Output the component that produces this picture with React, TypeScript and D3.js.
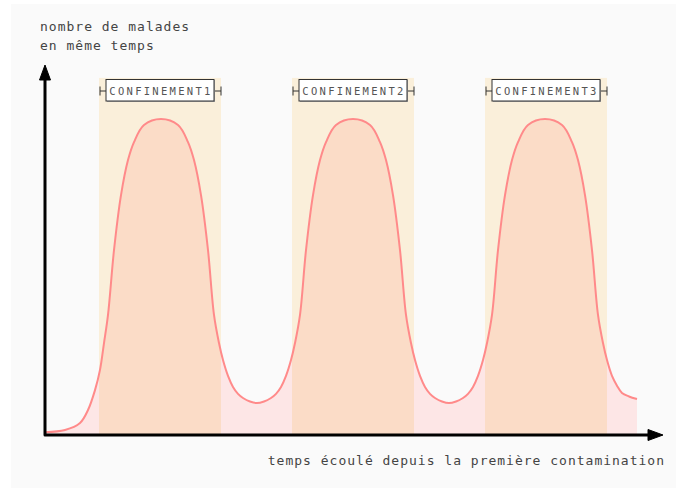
import React from "react";
import * as d3 from "d3";

const W = 676;
const H = 488;

// time (arbitrary units) and number of sick people (0-100 scale)
const curveT = [
  0, 20, 35, 43, 50, 55, 59, 63, 69, 76, 83, 89, 99, 116, 133, 143, 149, 156, 163, 169, 174, 178, 183, 188, 193, 198, 205, 212,
  219, 226, 231, 236, 241, 246, 250, 255, 261, 268, 275, 281, 291, 308, 325, 335, 341, 348, 355, 361, 366, 370, 375, 380, 385, 390, 397, 404,
  411, 418, 423, 428, 433, 438, 442, 447, 453, 460, 467, 473, 483, 500, 517, 527, 533, 540, 547, 553, 558, 562, 567, 572, 577, 584, 592,
];
const curveV = [
  0.9, 1.6, 3.8, 7.9, 14.2, 20.6, 29.1, 38.0, 58.5, 75.9, 87.0, 92.7, 98.1, 100, 98.1, 92.7, 87.0, 75.9, 58.5, 38.0, 29.1, 23.7, 18.7, 15.2, 13.0, 11.7, 10.6, 10.1,
  10.6, 11.7, 13.0, 15.2, 18.7, 23.7, 29.1, 38.0, 58.5, 75.9, 87.0, 92.7, 98.1, 100, 98.1, 92.7, 87.0, 75.9, 58.5, 38.0, 29.1, 23.7, 18.7, 15.2, 13.0, 11.7, 10.6, 10.1,
  10.6, 11.7, 13.0, 15.2, 18.7, 23.7, 29.1, 38.0, 58.5, 75.9, 87.0, 92.7, 98.1, 100, 98.1, 92.7, 87.0, 75.9, 58.5, 38.0, 29.1, 23.7, 18.7, 15.6, 13.3, 12.2, 11.4,
];

const bandLabels = ["CONFINEMENT1", "CONFINEMENT2", "CONFINEMENT3"];
const bandStart = [54, 247, 440];
const bandEnd = [176, 369, 562];
const bandTop = 113;

const yTitle = ["nombre de malades", "en même temps"];
const xTitle = "temps écoulé depuis la première contamination";

const MONO = "'DejaVu Sans Mono', 'Liberation Mono', monospace";

export default function App() {
  const x = d3.scaleLinear().domain([0, 618]).range([45, 663]);
  const y = d3.scaleLinear().domain([0, 100]).range([435, 119]);
  const pts: [number, number][] = curveT.map((t, i) => [t, curveV[i]]);

  const line = d3
    .line<[number, number]>()
    .x((d) => x(d[0]))
    .y((d) => y(d[1]))
    .curve(d3.curveCatmullRom.alpha(0.5));
  const area = d3
    .area<[number, number]>()
    .x((d) => x(d[0]))
    .y0(y(0))
    .y1((d) => y(d[1]))
    .curve(d3.curveCatmullRom.alpha(0.5));

  const x0 = x(0);
  const y0 = y(0);

  return (
    <svg width={W} height={H} style={{ position: "absolute", left: 0, top: 0 }}>
      <defs>
        <clipPath id="areaClip">
          <path d={area(pts) || ""} />
        </clipPath>
      </defs>
      <rect x={11} y={4} width={W - 11} height={H - 4} fill="#fafafa" />

      {bandStart.map((s, i) => (
        <rect
          key={"b" + i}
          x={x(s)}
          y={y(bandTop)}
          width={x(bandEnd[i]) - x(s)}
          height={y0 - y(bandTop)}
          fill="#faefda"
        />
      ))}
      <path d={area(pts) || ""} fill="#fde6e6" />
      <g clipPath="url(#areaClip)">
        {bandStart.map((s, i) => (
          <rect
            key={"p" + i}
            x={x(s)}
            y={y(bandTop)}
            width={x(bandEnd[i]) - x(s)}
            height={y0 - y(bandTop)}
            fill="#fbdcc7"
          />
        ))}
      </g>
      <path d={line(pts) || ""} fill="none" stroke="#ff8a8a" strokeWidth={2} />

      {bandStart.map((s, i) => {
        const l = x(s) + 1;
        const r = x(bandEnd[i]);
        const bx = l + 6;
        const bw = r - l - 13;
        const cy = 91;
        return (
          <g key={"l" + i}>
            <line x1={l} x2={bx} y1={cy} y2={cy} stroke="#333" strokeWidth={1} />
            <line x1={bx + bw} x2={r} y1={cy} y2={cy} stroke="#333" strokeWidth={1} />
            <line x1={l} x2={l} y1={cy - 4.5} y2={cy + 4.5} stroke="#333" strokeWidth={1} />
            <line x1={r} x2={r} y1={cy - 4.5} y2={cy + 4.5} stroke="#333" strokeWidth={1} />
            <rect x={bx + 1} y={80} width={bw} height={22} fill="#aaa" />
            <rect x={bx} y={79.5} width={bw} height={21.5} fill="#fff" stroke="#333" strokeWidth={1} />
            <text
              x={bx + bw / 2 + 1}
              y={94.5}
              textAnchor="middle"
              fontFamily={MONO}
              fontSize={10.5}
              letterSpacing={2.3}
              fill="#555"
            >
              {bandLabels[i]}
            </text>
          </g>
        );
      })}

      {/* axes */}
      <path
        d={`M${x0},${y(bandTop) - 2} L${x0},${y0} L${x(618) - 8},${y0}`}
        fill="none"
        stroke="#000"
        strokeWidth={3}
        strokeLinejoin="round"
      />
      <path d={`M${x0},65 L${x0 + 5.5},80 L${x0 - 5.5},80 Z`} fill="#000" stroke="#000" strokeWidth={1} strokeLinejoin="round" />
      <path d={`M663,${y0} L648,${y0 - 5.5} L648,${y0 + 5.5} Z`} fill="#000" stroke="#000" strokeWidth={1} strokeLinejoin="round" />

      {yTitle.map((t, i) => (
        <text key={t} x={40} y={31 + i * 19} fontFamily={MONO} fontSize={13} letterSpacing={1} fill="#444">
          {t}
        </text>
      ))}
      <text x={665} y={465} textAnchor="end" fontFamily={MONO} fontSize={13} letterSpacing={1} fill="#444">
        {xTitle}
      </text>
    </svg>
  );
}
